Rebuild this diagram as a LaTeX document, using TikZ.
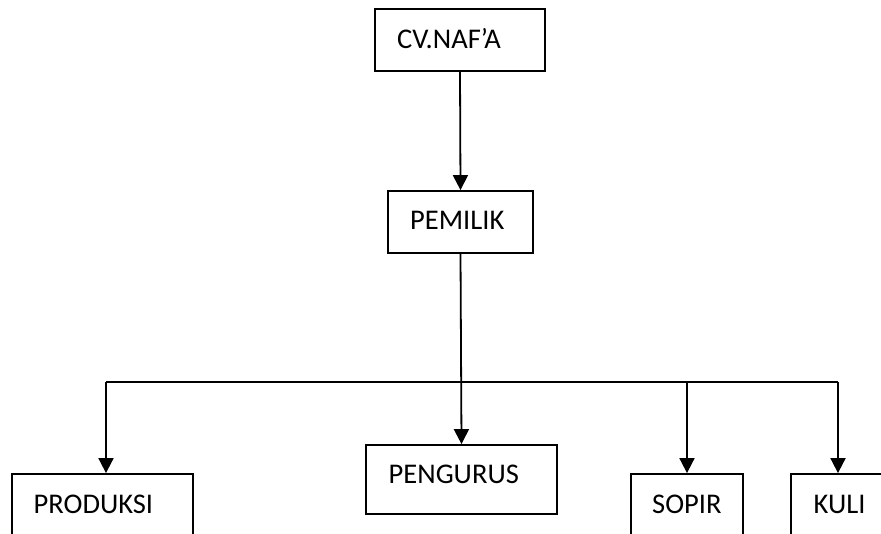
\documentclass[tikz,border=0pt]{standalone}
\usepackage{fontspec}
\setmainfont{Carlito}
\usetikzlibrary{arrows.meta}
\begin{document}
\begin{tikzpicture}[x=1pt,y=-1pt,
  box/.style={draw,line width=1.8pt,inner sep=0pt},
  lbl/.style={anchor=base west,inner sep=0pt,font=\fontsize{28.5}{32}\selectfont},
  conn/.style={line width=1.8pt},
  arr/.style={line width=1.8pt,-{Triangle[width=15pt,length=15pt]}}]
\clip (0,0) rectangle (881,533);
\fill[white] (0,0) rectangle (881,533);
\node[box,minimum width=170pt,minimum height=62pt] (cv) at (460,40) {};
\node[lbl] (tcv) at (397,48) {CV.NAF’A};
\node[box,minimum width=145pt,minimum height=62pt] (pemilik) at (460.5,222) {};
\node[lbl] (tpemilik) at (410,229.5) {PEMILIK};
\node[box,minimum width=191pt,minimum height=69pt] (pengurus) at (461.5,479.5) {};
\node[lbl] (tpengurus) at (388.5,483) {PENGURUS};
\node[box,minimum width=181pt,minimum height=86pt] (produksi) at (102.5,517) {};
\node[lbl] (tproduksi) at (33.5,513) {PRODUKSI};
\node[box,minimum width=112pt,minimum height=86pt] (sopir) at (687,517) {};
\node[lbl] (tsopir) at (652,513) {SOPIR};
\node[box,minimum width=129pt,minimum height=86pt] (kuli) at (855.5,517) {};
\node[lbl] (tkuli) at (813.5,513) {KULI};
\coordinate (b1) at (106,382);
\coordinate (b2) at (460,382);
\coordinate (b3) at (687,382);
\coordinate (b4) at (838,382);
\draw[arr] (cv.south) -- (pemilik.north);
\draw[arr] (pemilik.south) -- (pengurus.north);
\draw[conn] (b1) -- (b4);
\draw[arr] (b1) -- (b1 |- produksi.north);
\draw[arr] (b3) -- (b3 |- sopir.north);
\draw[arr] (b4) -- (b4 |- kuli.north);
\end{tikzpicture}
\end{document}
